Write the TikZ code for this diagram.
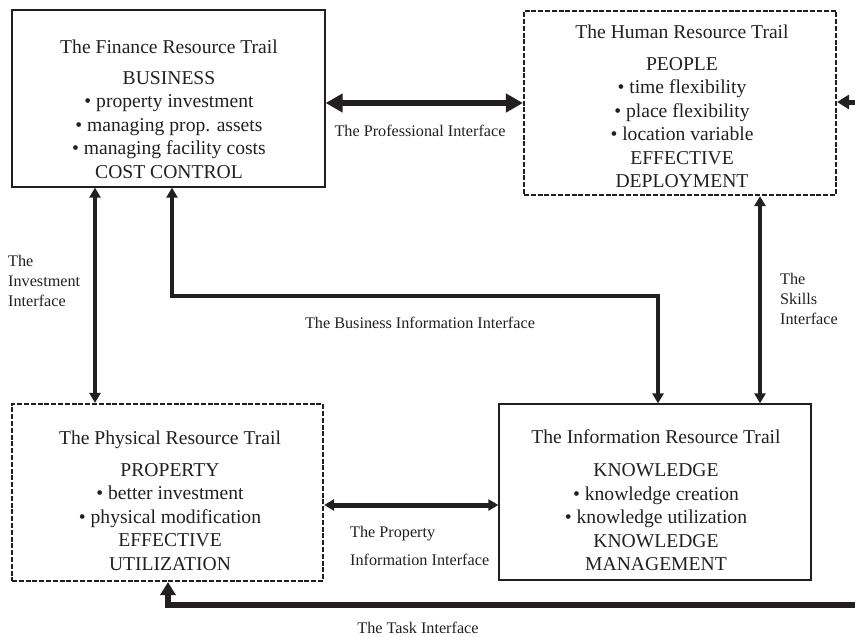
\documentclass[tikz,border=0pt]{standalone}
\usepackage{fontspec}
\setmainfont{Liberation Serif}
\usetikzlibrary{arrows.meta}
\definecolor{ink}{RGB}{35,31,32}
\begin{document}
\begin{tikzpicture}[x=1pt,y=-1pt,
  every node/.style={text=ink},
  solidbox/.style={draw=ink, line width=1.3pt, inner sep=0pt},
  dashbox/.style={draw=ink, line width=2.2pt, dash pattern=on 5pt off 1.8pt, inner sep=0pt},
  boxtext/.style={align=center, inner sep=0pt, anchor=north, font=\fontsize{19.6}{23.5}\selectfont},
  lbl/.style={inner sep=0pt, font=\fontsize{16.2}{20}\selectfont},
  heavy/.style={draw=ink, line width=6pt, {Triangle[length=17pt,width=18pt]}-{Triangle[length=17pt,width=18pt]}},
  medium/.style={draw=ink, line width=3.5pt, {Triangle[length=10pt,width=11pt]}-{Triangle[length=10pt,width=11pt]}},
  thickmed/.style={draw=ink, line width=5pt, {Triangle[length=10pt,width=11pt]}-{Triangle[length=10pt,width=11pt]}},
  inarrow/.style={draw=ink, line width=5pt, -{Triangle[length=12pt,width=14pt]}},
  taskarrow/.style={draw=ink, line width=6pt, -{Triangle[length=13pt,width=15pt]}}]
\useasboundingbox (0,0) rectangle (855,637);

% boxes
\node[solidbox, minimum width=313pt, minimum height=177pt] (fin) at (168.5,98.5) {};
\node[dashbox, minimum width=312pt, minimum height=184pt] (hum) at (680,103) {};
\node[dashbox, minimum width=311pt, minimum height=177pt] (phy) at (167.5,492.5) {};
\node[solidbox, minimum width=312pt, minimum height=176pt] (info) at (655,492) {};

% box contents
\node[boxtext] (fint) at (169,40) {The Finance Resource Trail\\[7pt]
  BUSINESS\\ • property investment\\ • managing prop. assets\\ • managing facility costs\\ COST CONTROL};
\node[boxtext] (humt) at (682,25) {The Human Resource Trail\\[8pt]
  PEOPLE\\ • time flexibility\\ • place flexibility\\ • location variable\\ EFFECTIVE\\ DEPLOYMENT};
\node[boxtext] (phyt) at (170,431) {The Physical Resource Trail\\[8pt]
  PROPERTY\\ • better investment\\ • physical modification\\ EFFECTIVE\\ UTILIZATION};
\node[boxtext] (infot) at (656,429) {The Information Resource Trail\\[10pt]
  KNOWLEDGE\\ • knowledge creation\\ • knowledge utilization\\ KNOWLEDGE\\ MANAGEMENT};

% helper coordinates
\coordinate (hr) at (855,102);
\coordinate (inv) at (95,0);
\coordinate (bx1) at (172,0);
\coordinate (bx2) at (658,0);
\coordinate (by) at (0,296);
\coordinate (sk) at (760,0);
\coordinate (pr) at (0,505);
\coordinate (tr) at (855,605);
\coordinate (tx) at (168,0);

% connectors
\draw[heavy] (fin.east |- hum.west) -- (hum.west);
\draw[inarrow] (hr) -- (hum.east |- hr);
\draw[medium] (fin.south -| inv) -- (phy.north -| inv);
\draw[medium, line join=miter] (fin.south -| bx1) -- (bx1 |- by) -- (bx2 |- by) -- (info.north -| bx2);
\draw[medium] (hum.south -| sk) -- (info.north -| sk);
\draw[thickmed] (phy.east |- pr) -- (info.west |- pr);
\draw[taskarrow, line join=miter] (tr) -| (phy.south -| tx);

% labels
\node[lbl] (lprof) at (420,131) {The Professional Interface};
\node[lbl, align=left, anchor=north west] (linv) at (8,255) {The\\Investment\\Interface};
\node[lbl] (lbus) at (420,323) {The Business Information Interface};
\node[lbl, align=left, anchor=north west] (lsk) at (780,273) {The\\Skills\\Interface};
\node[lbl, align=left, anchor=north west, font=\fontsize{16.2}{28}\selectfont] (lprop) at (350,526) {The Property\\Information Interface};
\node[lbl] (ltask) at (418,628) {The Task Interface};
\end{tikzpicture}
\end{document}
